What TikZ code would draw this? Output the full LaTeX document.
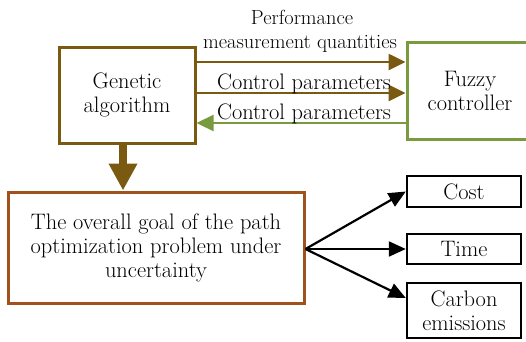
\documentclass[tikz,border=0pt]{standalone}
\usetikzlibrary{arrows.meta}
\definecolor{gabrown}{HTML}{7A5A10}
\definecolor{fzgreen}{HTML}{7A9A40}
\definecolor{goalbrown}{HTML}{A0521D}
\tikzset{
  x=1pt,y=-1pt,
  txt/.style={font=\fontsize{22.4}{24}\selectfont},
  lbl/.style={txt,align=center,inner sep=0pt},
  smalllbl/.style={font=\fontsize{20.4}{24}\selectfont,align=center,inner sep=0pt},
  box/.style={draw,line width=3pt,inner sep=0pt,txt,align=center},
  outbox/.style={draw,line width=2.4pt,inner sep=0pt,txt,align=center},
  arr/.style={line width=2.6pt,-{Triangle[length=17pt,width=16pt]}},
  blk/.style={line width=2.2pt,black,-{Triangle[length=17pt,width=15pt]}}
}
\begin{document}
\begin{tikzpicture}
\useasboundingbox (0,0) rectangle (526,341);
\node[box,draw=gabrown,minimum width=136pt,minimum height=96pt] (ga) at (127,95) {Genetic\\algorithm};
\node[box,draw=fzgreen,minimum width=126pt,minimum height=97pt] (fz) at (470,90.5) {Fuzzy\\controller};
\node[box,draw=goalbrown,minimum width=296pt,minimum height=111pt] (goal) at (156,247.5) {The overall goal of the path\\optimization problem under\\uncertainty};
\node[outbox,minimum width=114pt,minimum height=31pt] (cost) at (464,191.5) {Cost};
\node[outbox,minimum width=114pt,minimum height=30pt] (time) at (464,249) {Time};
\node[outbox,minimum width=114pt,minimum height=55pt] (carbon) at (464,310.5) {Carbon\\emissions};
\draw[arr,gabrown] (ga.east|-0,62) -- (fz.west|-0,62);
\draw[arr,gabrown] (ga.east|-0,93) -- (fz.west|-0,93);
\draw[arr,fzgreen,line width=2.2pt] (fz.west|-0,123) -- (ga.east|-0,123);
\node[smalllbl,anchor=base] (pm1) at (302,24) {Performance};
\node[smalllbl,anchor=base] (pm2) at (300,48) {measurement quantities};
\node[lbl,anchor=base] (cp1) at (304,89) {Control parameters};
\node[lbl,anchor=base] (cp2) at (304,119) {Control parameters};
\draw[gabrown,line width=8pt,-{Triangle[length=27pt,width=27pt]}] (ga.south-|123,0) -- (goal.north-|123,0);
\coordinate (fan) at (goal.east|-0,249);
\draw[blk] (fan) -- (cost.west);
\draw[blk] (fan) -- (time.west);
\draw[blk] (fan) -- (carbon.west|-0,298);
\end{tikzpicture}
\end{document}
